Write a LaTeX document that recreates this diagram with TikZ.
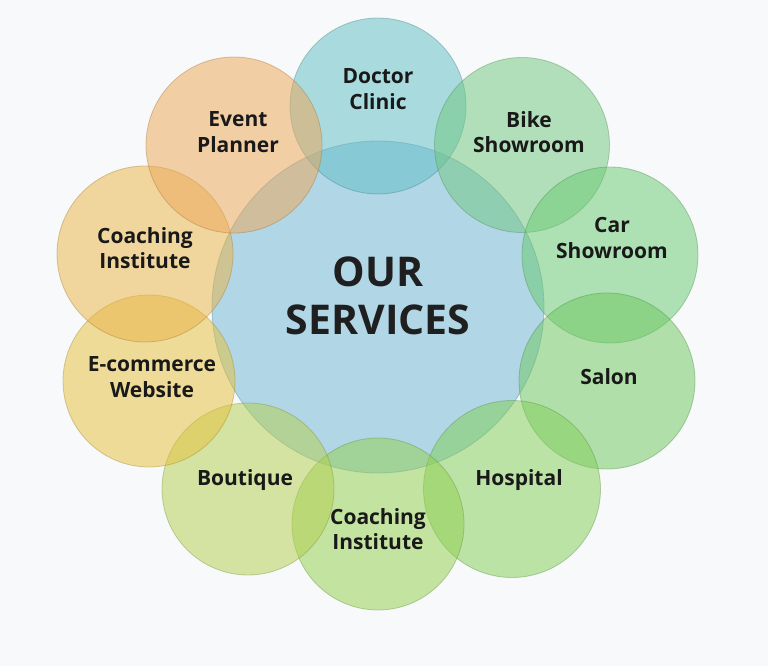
\documentclass[tikz,border=0pt]{standalone}
\usepackage{fontspec}
\setmainfont{Open Sans}
\begin{document}
\begin{tikzpicture}[x=1pt,y=-1pt,
  bubble/.style={circle,inner sep=0pt,fill opacity=0.52,draw opacity=0.4,line width=0.8pt},
  lbl/.style={align=center,font=\fontsize{21}{25.5}\selectfont\bfseries,text=black!90},
  title/.style={align=center,font=\fontsize{41}{48}\selectfont\bfseries,text=black!88}]
\definecolor{bgc}{RGB}{248,249,250}
\definecolor{cBlue}{RGB}{113,183,213}
\definecolor{cDoc}{RGB}{97,190,197}
\definecolor{cBike}{RGB}{113,200,127}
\definecolor{cCar}{RGB}{105,202,113}
\definecolor{cSalon}{RGB}{110,200,97}
\definecolor{cHosp}{RGB}{130,207,88}
\definecolor{cCoachB}{RGB}{147,207,80}
\definecolor{cBout}{RGB}{180,207,80}
\definecolor{cEcom}{RGB}{230,193,63}
\definecolor{cCoachL}{RGB}{233,180,72}
\definecolor{cEvent}{RGB}{237,167,88}
\fill[bgc] (0,0) rectangle (768,666);
\useasboundingbox (0,0) rectangle (768,666);
% center
\node[bubble,fill=cBlue,draw=cBlue!70!black,minimum size=332pt] (center) at (378,307) {};
% outer circles
\node[bubble,fill=cDoc,draw=cDoc!70!black,minimum size=176pt] (doc) at (378,106) {};
\node[bubble,fill=cBike,draw=cBike!70!black,minimum size=175pt] (bike) at (522,145) {};
\node[bubble,fill=cCar,draw=cCar!70!black,minimum size=176pt] (car) at (610,255) {};
\node[bubble,fill=cSalon,draw=cSalon!70!black,minimum size=176pt] (salon) at (607,381) {};
\node[bubble,fill=cHosp,draw=cHosp!70!black,minimum size=177pt] (hosp) at (512,489) {};
\node[bubble,fill=cCoachB,draw=cCoachB!70!black,minimum size=172pt] (coachb) at (378,524) {};
\node[bubble,fill=cBout,draw=cBout!70!black,minimum size=172pt] (bout) at (248,489) {};
\node[bubble,fill=cEcom,draw=cEcom!70!black,minimum size=172pt] (ecom) at (149,381) {};
\node[bubble,fill=cCoachL,draw=cCoachL!70!black,minimum size=176pt] (coachl) at (145,254) {};
\node[bubble,fill=cEvent,draw=cEvent!70!black,minimum size=176pt] (event) at (234,145) {};
% labels
\node[title] (ttl) at (378,296) {OUR\\SERVICES};
\node[lbl] (tdoc) at (378,89) {Doctor\\Clinic};
\node[lbl] (tbike) at (529,132) {Bike\\Showroom};
\node[lbl] (tcar) at (612,238) {Car\\Showroom};
\node[lbl] (tsalon) at (609,377) {Salon};
\node[lbl] (thosp) at (519,480) {Hospital};
\node[lbl] (tcoachb) at (378,529) {Coaching\\Institute};
\node[lbl] (tbout) at (245,480) {Boutique};
\node[lbl] (tecom) at (152,377) {E-commerce\\Website};
\node[lbl] (tcoachl) at (145,248) {Coaching\\Institute};
\node[lbl] (tevent) at (238,132) {Event\\Planner};
\end{tikzpicture}
\end{document}
